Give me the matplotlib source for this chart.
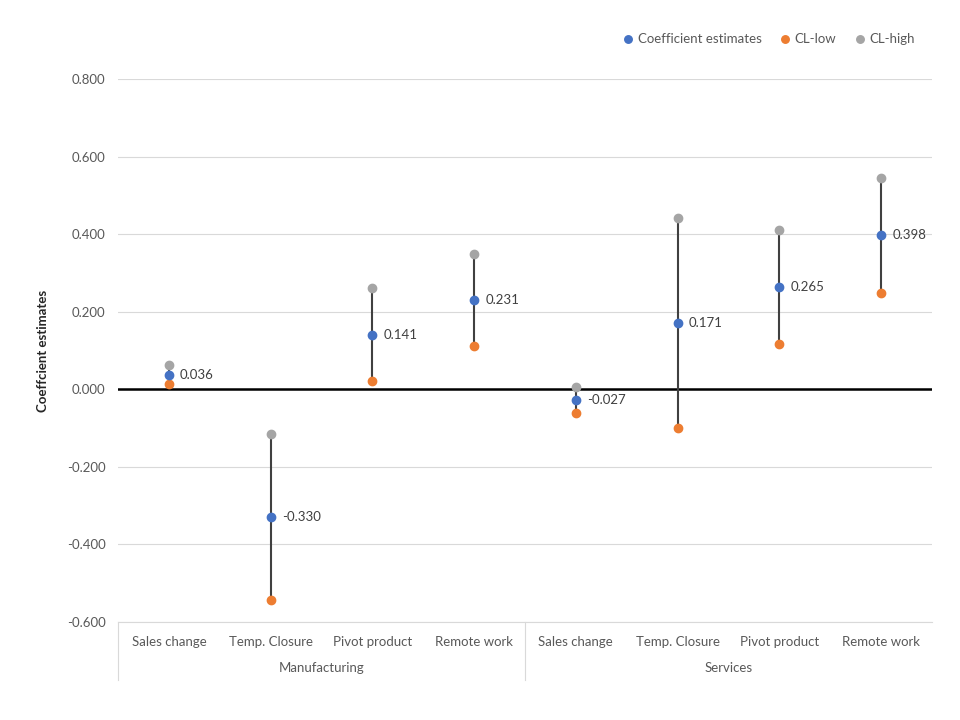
import matplotlib
matplotlib.use("Agg")
import matplotlib.pyplot as plt
from matplotlib.lines import Line2D
from matplotlib.transforms import blended_transform_factory

plt.rcParams['font.family'] = ['Lato', 'DejaVu Sans']

categories = ["Sales change", "Temp. Closure", "Pivot product", "Remote work",
              "Sales change", "Temp. Closure", "Pivot product", "Remote work"]
groups = ["Manufacturing", "Services"]
estimates = [0.036, -0.330, 0.141, 0.231, -0.027, 0.171, 0.265, 0.398]
cl_low = [0.013, -0.544, 0.021, 0.111, -0.062, -0.100, 0.116, 0.247]
cl_high = [0.062, -0.116, 0.260, 0.348, 0.005, 0.441, 0.410, 0.546]
yticks = [-0.6, -0.4, -0.2, 0.0, 0.2, 0.4, 0.6, 0.8]

blue = "#4472C4"
orange = "#ED7D31"
gray = "#A5A5A5"
txt = "#595959"

fig = plt.figure(figsize=(9.6, 7.2), dpi=100)
ax = fig.add_axes([118/960, 1-622/720, (932-118)/960, (622-79)/720])

x = list(range(len(categories)))
ax.vlines(x, cl_low, cl_high, color="#404040", lw=1.5, zorder=2)
ax.plot(x, estimates, 'o', color=blue, ms=6, zorder=4, label="Coefficient estimates")
ax.plot(x, cl_low, 'o', color=orange, ms=6, zorder=3, label="CL-low")
ax.plot(x, cl_high, 'o', color=gray, ms=6, zorder=3, label="CL-high")

for xi, v in zip(x, estimates):
    ax.annotate(f"{v:.3f}", (xi, v), xytext=(8, 0), textcoords="offset points",
                va="center", ha="left", fontsize=9.5, color="#404040")

ax.set_xlim(-0.5, len(categories) - 0.5)
ax.set_ylim(-0.6, 0.8)
ax.set_yticks(yticks)
ax.set_yticklabels([f"{t:.3f}" for t in yticks], fontsize=9.5, color=txt)
ax.yaxis.grid(True, color="#D9D9D9", lw=0.8)
ax.set_axisbelow(True)
ax.axhline(0, color="black", lw=1.8, zorder=1)
ax.tick_params(axis='y', length=0, pad=9)
ax.set_xticks(x)
ax.set_xticklabels(categories, fontsize=9.5, color=txt)
ax.tick_params(axis='x', length=0, pad=10)
for s in ["left", "right", "top"]:
    ax.spines[s].set_visible(False)
ax.spines["bottom"].set_color("#D9D9D9")

ax.set_ylabel("Coeffcient estimates", fontsize=9.5, fontweight="bold", color="#262626")
ax.yaxis.set_label_coords(-0.085, 0.5)

tr = blended_transform_factory(ax.transAxes, ax.transAxes)
for xf in [0.0, 0.5]:
    ax.add_line(Line2D([xf, xf], [0, -0.107], transform=tr, color="#D9D9D9", lw=0.8, clip_on=False))
trd = blended_transform_factory(ax.transData, ax.transAxes)
for gi, g in enumerate(groups):
    ax.text(gi * 4 + 1.5, -0.0855, g, transform=trd, ha="center", va="center",
            fontsize=9.5, color=txt)

leg = fig.legend(loc="upper right", bbox_to_anchor=(0.965, 0.97), ncol=3, frameon=False,
                 fontsize=9.5, handletextpad=0.1, columnspacing=1.2, handlelength=1.2,
                 markerscale=0.9)
for t in leg.get_texts():
    t.set_color(txt)

fig.savefig("out.png", dpi=100)
